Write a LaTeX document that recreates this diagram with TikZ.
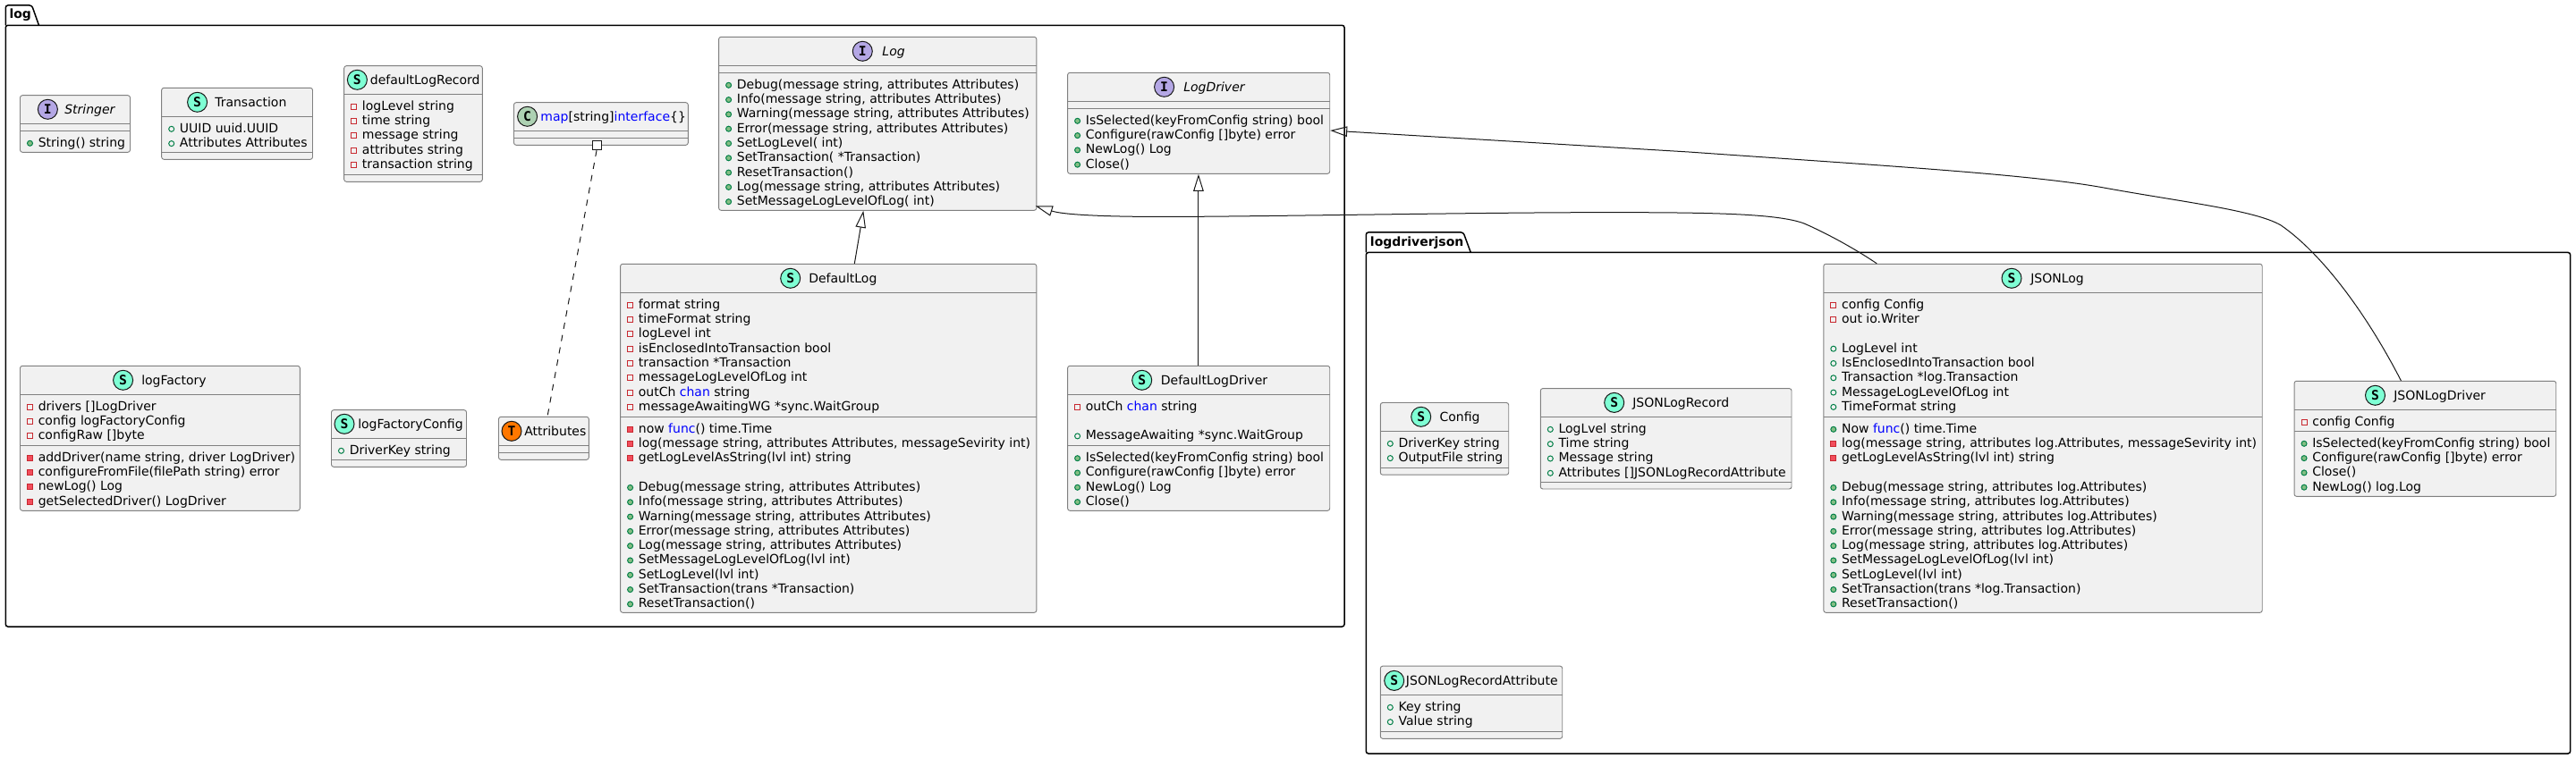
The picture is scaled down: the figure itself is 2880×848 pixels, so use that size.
\documentclass[tikz,border=0pt]{standalone}
\usepackage{fontspec}
\setmainfont{DejaVu Sans}
\newfontfamily\spotfont{DejaVu Sans Mono}
\usetikzlibrary{arrows.meta,calc}
\definecolor{boxline}{HTML}{181818}
\definecolor{boxgray}{HTML}{808080}
\definecolor{boxfill}{HTML}{F1F1F1}
\definecolor{spotS}{HTML}{7FFFD4}
\definecolor{spotI}{HTML}{B4A7E5}
\definecolor{spotC}{HTML}{ADD1B2}
\definecolor{spotT}{HTML}{FF7700}
\definecolor{privline}{HTML}{C82930}
\definecolor{privfill}{HTML}{F24D5C}
\definecolor{publine}{HTML}{038048}
\definecolor{pubfill}{HTML}{84BE84}
\definecolor{kw}{HTML}{0000FF}
\newcount\rowid
\newcommand{\kwd}[1]{\textcolor{kw}{#1}}
\newcommand{\txtfont}{\fontsize{10.5pt}{12pt}\selectfont}
\tikzset{
  px/.style={x=0.75pt,y=-0.75pt},
  classbody/.style={draw=boxgray,line width=0.7pt,fill=boxfill,rounded corners=1.9pt,inner sep=0pt,rectangle},
  sepline/.style={draw=boxgray,line width=0.7pt},
  pkgline/.style={draw=black,line width=1.125pt,rounded corners=1.9pt},
  pkgname/.style={anchor=base west,inner sep=0pt,font=\txtfont\bfseries},
  titletext/.style={anchor=base west,inner sep=0pt,font=\txtfont},
  rowtext/.style={anchor=base west,inner sep=0pt,font=\txtfont},
  spotmark/.style={circle,draw=boxline,line width=0.75pt,minimum size=16.5pt,inner sep=0pt,font=\fontsize{11pt}{12pt}\spotfont\bfseries},
  fieldpriv/.style={rectangle,draw=privline,line width=0.75pt,minimum size=4.5pt,inner sep=0pt},
  methpriv/.style={fieldpriv,fill=privfill},
  fieldpub/.style={circle,draw=publine,line width=0.75pt,minimum size=4.5pt,inner sep=0pt},
  methpub/.style={fieldpub,fill=pubfill},
  connector/.style={draw=boxline,line width=0.75pt},
  inherit/.style={connector,-{Triangle[open,length=14.25pt,width=8.6pt]}},
  assocdash/.style={connector,dash pattern=on 5.25pt off 5.25pt},
  assocsq/.style={rectangle,draw=boxline,fill=white,line width=0.75pt,minimum size=7.5pt,inner sep=0pt}
}
% id x1 y1 x2 y2 sep1 sep2 spotcolor letter spotx textx title
\newcommand{\classbox}[2]{%
  \def\cid{#1}\parsegeom#2\relax}
\def\parsegeom#1,#2,#3,#4,#5,#6\relax{%
  \def\xa{#1}\def\ya{#2}\def\xb{#3}\def\yb{#4}\def\sepa{#5}\def\sepb{#6}%
  \pgfmathsetmacro\cx{(\xa+\xb)/2}\pgfmathsetmacro\cy{(\ya+\yb)/2}%
  \pgfmathsetmacro\cw{(\xb-\xa)*0.75}\pgfmathsetmacro\ch{(\yb-\ya)*0.75}%
  \node[classbody,minimum width=\cw pt,minimum height=\ch pt] (\cid) at (\cx,\cy) {};%
  \draw[sepline] (\xa,\sepa) -- (\xb,\sepa);%
  \draw[sepline] (\xa,\sepb) -- (\xb,\sepb);%
  \pgfmathsetmacro\rowx{\xa}%
}
\newcommand{\classhead}[5]{% colour letter spotx textx title
  \pgfmathsetmacro\spy{\sepa-16}\pgfmathsetmacro\tly{\sepa-10.6}%
  \node[spotmark,fill=#1] (\cid-spot) at (#3,\spy) {#2};%
  \node[titletext] (\cid-title) at (#4,\tly) {#5};%
}
\newcommand{\startrows}[1]{\pgfmathsetmacro\rowy{#1+18}}
\newcommand{\nextrow}{\pgfmathsetmacro\rowy{\rowy+16.297}}
\newcommand{\memberrow}[2]{%
  \global\advance\rowid by 1
  \pgfmathsetmacro\icx{\rowx+11}\pgfmathsetmacro\icy{\rowy-4}\pgfmathsetmacro\tx{\rowx+20}%
  \node[#1] (ic\the\rowid) at (\icx,\icy) {};%
  \node[rowtext] (tx\the\rowid) at (\tx,\rowy) {#2};%
  \nextrow}
\newcommand{\fpriv}[1]{\memberrow{fieldpriv}{#1}}
\newcommand{\mpriv}[1]{\memberrow{methpriv}{#1}}
\newcommand{\fpub}[1]{\memberrow{fieldpub}{#1}}
\newcommand{\mpub}[1]{\memberrow{methpub}{#1}}
\begin{document}
\begin{tikzpicture}[px]
\useasboundingbox (0,0) rectangle (2880,848);
% packages
\draw[pkgline] (6.3,28.3) -- (6.3,6) -- (35.6,6) -- (43.5,28.3);
\draw[pkgline] (6.3,28.3) -- (1503,28.3) -- (1503,701) -- (6.3,701) -- cycle;
\node[pkgname] (pkglog) at (10.3,21) {log};
\draw[pkgline] (1527.3,282.5) -- (1527.3,260) -- (1636,260) -- (1644.3,282.5);
\draw[pkgline] (1527.3,282.5) -- (2873.6,282.5) -- (2873.6,843) -- (1527.3,843) -- cycle;
\node[pkgname] (pkgjson) at (1531.7,275.7) {logdriverjson};

% log package
\classbox{stringer}{22.5,106.7,145.5,170.3,138.3,146.3}
\classhead{spotI}{I}{53.4}{72}{\itshape Stringer}
\startrows{146.3}\mpub{String() string}

\classbox{transaction}{180.7,98.3,349.5,178.3,130.3,170.3}
\classhead{spotS}{S}{220.6}{240}{Transaction}
\startrows{130.3}\fpub{UUID uuid.UUID}\fpub{Attributes Attributes}

\classbox{defaultlogrecord}{384.7,73.7,539.3,203.3,105.3,195.3}
\classhead{spotS}{S}{399.4}{413.6}{defaultLogRecord}
\startrows{105.3}\fpriv{logLevel string}\fpriv{time string}\fpriv{message string}\fpriv{attributes string}\fpriv{transaction string}

\classbox{mapclass}{574.5,114.7,769.3,162.3,146.3,154.3}
\classhead{spotC}{C}{589.6}{604.2}{\kwd{map}[string]\kwd{interface}\{\}}

\classbox{log}{803.6,41.3,1158.8,235.3,73.3,81.3}
\classhead{spotI}{I}{964.3}{986.2}{\itshape Log}
\startrows{81.3}
\mpub{Debug(message string, attributes Attributes)}
\mpub{Info(message string, attributes Attributes)}
\mpub{Warning(message string, attributes Attributes)}
\mpub{Error(message string, attributes Attributes)}
\mpub{SetLogLevel( int)}
\mpub{SetTransaction( *Transaction)}
\mpub{ResetTransaction()}
\mpub{Log(message string, attributes Attributes)}
\mpub{SetMessageLogLevelOfLog( int)}

\classbox{logdriver}{1193.6,81.3,1486.7,194.3,113.3,121.3}
\classhead{spotI}{I}{1301.6}{1323}{\itshape LogDriver}
\startrows{121.3}
\mpub{IsSelected(keyFromConfig string) bool}
\mpub{Configure(rawConfig []byte) error}
\mpub{NewLog() Log}
\mpub{Close()}

\classbox{logfactory}{22.5,409.3,335.3,571.3,441.3,498.3}
\classhead{spotS}{S}{137.6}{158}{logFactory}
\startrows{441.3}
\fpriv{drivers []LogDriver}
\fpriv{config logFactoryConfig}
\fpriv{configRaw []byte}
\startrows{498.3}
\mpriv{addDriver(name string, driver LogDriver)}
\mpriv{configureFromFile(filePath string) error}
\mpriv{newLog() Log}
\mpriv{getSelectedDriver() LogDriver}

\classbox{logfactoryconfig}{370.5,458.7,521.5,522.3,490.3,514.3}
\classhead{spotS}{S}{385}{400}{logFactoryConfig}
\startrows{490.3}\fpub{DriverKey string}

\classbox{attributes}{557.5,466.3,658.3,514.3,498.3,506.3}
\classhead{spotT}{T}{572}{586}{Attributes}

\classbox{defaultlog}{693.6,295.3,1158.8,685.3,327.3,466.3}
\classhead{spotS}{S}{883.7}{904}{DefaultLog}
\startrows{327.3}
\fpriv{format string}
\fpriv{timeFormat string}
\fpriv{logLevel int}
\fpriv{isEnclosedIntoTransaction bool}
\fpriv{transaction *Transaction}
\fpriv{messageLogLevelOfLog int}
\fpriv{outCh \kwd{chan} string}
\fpriv{messageAwaitingWG *sync.WaitGroup}
\startrows{466.3}
\mpriv{now \kwd{func}() time.Time}
\mpriv{log(message string, attributes Attributes, messageSevirity int)}
\mpriv{getLogLevelAsString(lvl int) string}
\nextrow
\mpub{Debug(message string, attributes Attributes)}
\mpub{Info(message string, attributes Attributes)}
\mpub{Warning(message string, attributes Attributes)}
\mpub{Error(message string, attributes Attributes)}
\mpub{Log(message string, attributes Attributes)}
\mpub{SetMessageLogLevelOfLog(lvl int)}
\mpub{SetLogLevel(lvl int)}
\mpub{SetTransaction(trans *Transaction)}
\mpub{ResetTransaction()}

\classbox{defaultlogdriver}{1193.6,409.3,1486.7,571.3,441.3,498.7}
\classhead{spotS}{S}{1276.7}{1297.6}{DefaultLogDriver}
\startrows{441.3}
\fpriv{outCh \kwd{chan} string}
\nextrow
\fpub{MessageAwaiting *sync.WaitGroup}
\startrows{498.7}
\mpub{IsSelected(keyFromConfig string) bool}
\mpub{Configure(rawConfig []byte) error}
\mpub{NewLog() Log}
\mpub{Close()}

% logdriverjson package
\classbox{config}{1543.3,450.5,1686.7,531.2,482.3,523.4}
\classhead{spotS}{S}{1588.7}{1609.3}{Config}
\startrows{482.3}\fpub{DriverKey string}\fpub{OutputFile string}

\classbox{jsonlogrecord}{1722.3,434.6,2003,547,466.4,539.3}
\classhead{spotS}{S}{1804.7}{1825}{JSONLogRecord}
\startrows{466.4}
\fpub{LogLvel string}
\fpub{Time string}
\fpub{Message string}
\fpub{Attributes []JSONLogRecordAttribute}

\classbox{jsonlogrecordattr}{1543.3,745.2,1746.7,826.3,777.4,818.5}
\classhead{spotS}{S}{1558.7}{1571.7}{JSONLogRecordAttribute}
\startrows{777.4}\fpub{Key string}\fpub{Value string}

\classbox{jsonlog}{2038.8,295.3,2529.2,685.3,327.3,466.3}
\classhead{spotS}{S}{2249}{2270}{JSONLog}
\startrows{327.3}
\fpriv{config Config}
\fpriv{out io.Writer}
\nextrow
\fpub{LogLevel int}
\fpub{IsEnclosedIntoTransaction bool}
\fpub{Transaction *log.Transaction}
\fpub{MessageLogLevelOfLog int}
\fpub{TimeFormat string}
\startrows{466.3}
\mpub{Now \kwd{func}() time.Time}
\mpriv{log(message string, attributes log.Attributes, messageSevirity int)}
\mpriv{getLogLevelAsString(lvl int) string}
\nextrow
\mpub{Debug(message string, attributes log.Attributes)}
\mpub{Info(message string, attributes log.Attributes)}
\mpub{Warning(message string, attributes log.Attributes)}
\mpub{Error(message string, attributes log.Attributes)}
\mpub{Log(message string, attributes log.Attributes)}
\mpub{SetMessageLogLevelOfLog(lvl int)}
\mpub{SetLogLevel(lvl int)}
\mpub{SetTransaction(trans *log.Transaction)}
\mpub{ResetTransaction()}

\classbox{jsonlogdriver}{2565,426.3,2857.7,555.3,458.3,482.3}
\classhead{spotS}{S}{2655.5}{2676}{JSONLogDriver}
\startrows{458.3}\fpriv{config Config}
\startrows{482.3}
\mpub{IsSelected(keyFromConfig string) bool}
\mpub{Configure(rawConfig []byte) error}
\mpub{Close()}
\mpub{NewLog() log.Log}

% connectors
\draw[inherit] ($(defaultlog.north west)+(262.2,0)$) -- ($(log.south west)+(162.2,0)$);
\draw[inherit] ($(defaultlogdriver.north west)+(146.8,0)$) -- ($(logdriver.south west)+(146.8,0)$);
\draw[inherit] ($(jsonlog.north west)+(59.9,0)$)
  .. controls (2072,277) and (2040,260) .. (2017,250)
  .. controls (1985,238) and (1900,237.5) .. (1771,237.7)
  .. controls (1650,238) and (1450,241.5) .. (1340,242.3)
  .. controls (1270,243) and (1195,242) .. ($(log.south east)+(-1.5,-5.3)$);
\draw[inherit] ($(jsonlogdriver.north west)+(119.8,0)$)
  .. controls (2648,355) and (2598,285) .. (2549.6,251.7)
  .. controls (2520,235) and (2440,226) .. (2352,210)
  .. controls (2270,195) and (2100,185) .. (1888,170)
  -- ($(logdriver.east)+(0,8.2)$);
\node[assocsq] (mapsq) at ($(mapclass.south west)+(93,0)$) {};
\draw[assocdash] (mapsq.south) -- ($(attributes.north west)+(55,0)$);
\end{tikzpicture}
\end{document}
